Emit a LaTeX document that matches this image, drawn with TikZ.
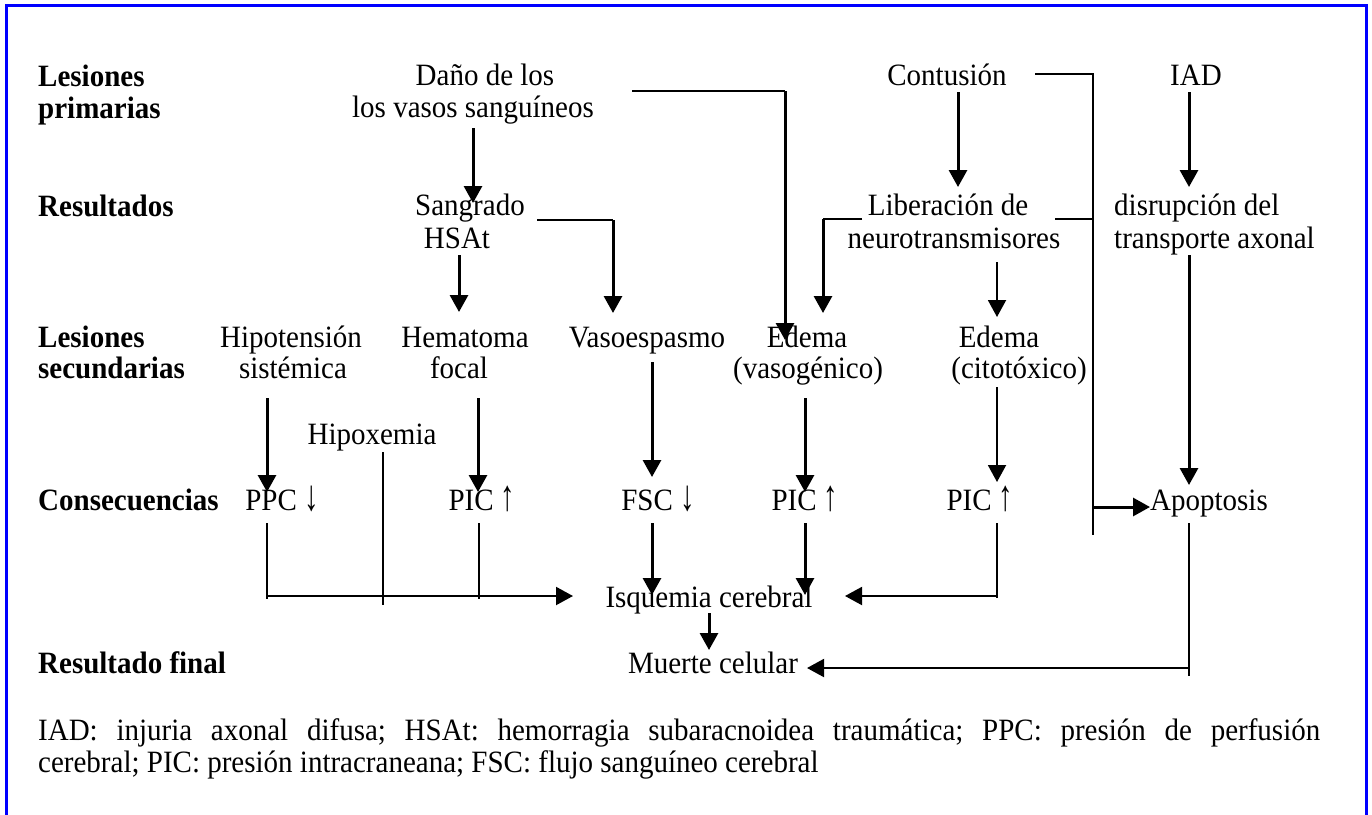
\documentclass[tikz,border=0pt]{standalone}
\usepackage{fontspec}
\usepackage{graphicx}
\setmainfont{Liberation Serif}
\usetikzlibrary{arrows.meta}
\newcommand\tall[1]{\scalebox{1}[1.07]{#1}}
\newcommand\dn{\scalebox{1}[1.5]{↓}}
\newcommand\up{\scalebox{1}[1.5]{↑}}
\begin{document}
\begin{tikzpicture}[x=1pt,y=-1pt,
  every node/.style={inner sep=0pt,font=\fontsize{29}{33}\selectfont\frenchspacing},
  txt/.style={anchor=base},
  txtl/.style={anchor=base west},
  lbl/.style={anchor=base west,font=\fontsize{29}{33}\selectfont\bfseries},
  frame/.style={draw=blue,line width=3pt},
  tip/.style={-{Triangle[length=17pt,width=18pt]}},
  thk/.style={line width=3pt,tip},
  medarr/.style={line width=2pt,tip},
  med/.style={line width=2pt},
  thn/.style={line width=1.3pt}]
\useasboundingbox (0,0) rectangle (1372,814);
\draw[frame] (6.5,830) -- (6.5,5.5) -- (1366.5,5.5) -- (1366.5,830);

% row labels
\node[lbl] (l1a) at (38,86) {\tall{Lesiones}};
\node[lbl] (l1b) at (38,118) {\tall{primarias}};
\node[lbl] (l2) at (38,216) {\tall{Resultados}};
\node[lbl] (l3a) at (38,347) {\tall{Lesiones}};
\node[lbl] (l3b) at (38,378) {\tall{secundarias}};
\node[lbl] (l4) at (38,510) {\tall{Consecuencias}};
\node[lbl] (l5) at (38,673) {\tall{Resultado final}};

% row 1
\node[txt] (dano1) at (485,85) {\tall{Daño de los}};
\node[txt] (dano2) at (473,117) {\tall{los vasos sanguíneos}};
\node[txt] (cont) at (947,85) {\tall{Contusión}};
\node[txt] (iad) at (1196,85) {\tall{IAD}};

% row 2
\node[txt] (sang1) at (470,215) {\tall{Sangrado}};
\node[txt] (sang2) at (457,248) {\tall{HSAt}};
\node[txt] (lib1) at (948,215) {\tall{Liberación de}};
\node[txt] (lib2) at (954,248) {\tall{neurotransmisores}};
\node[txtl] (dis1) at (1114,215) {\tall{disrupción del}};
\node[txtl] (dis2) at (1114,248) {\tall{transporte axonal}};

% row 3
\node[txt] (hipo1) at (291,347) {\tall{Hipotensión}};
\node[txt] (hipo2) at (293,378) {\tall{sistémica}};
\node[txt] (hem1) at (465,347) {\tall{Hematoma}};
\node[txt] (hem2) at (459,378) {\tall{focal}};
\node[txt] (vaso) at (647,347) {\tall{Vasoespasmo}};
\node[txt] (edv1) at (807,347) {\tall{Edema}};
\node[txt] (edv2) at (808,378) {\tall{(vasogénico)}};
\node[txt] (edc1) at (999,347) {\tall{Edema}};
\node[txt] (edc2) at (1019,378) {\tall{(citotóxico)}};
\node[txt] (hipox) at (372,444) {\tall{Hipoxemia}};

% row 4
\node[txt] (ppc) at (282,510) {\tall{PPC} \dn};
\node[txt] (pic1) at (482,510) {\tall{PIC} \up};
\node[txt] (fsc) at (658,510) {\tall{FSC} \dn};
\node[txt] (pic2) at (805,510) {\tall{PIC} \up};
\node[txt] (pic3) at (980,510) {\tall{PIC} \up};
\node[txt] (apop) at (1209,510) {\tall{Apoptosis}};
\node[txt] (isq) at (709,607) {\tall{Isquemia cerebral}};

% row 5
\node[txt] (muerte) at (713,673) {\tall{Muerte celular}};

% footnote
\node[txtl] (fn1) at (38,740) {\tall{\makebox[1282pt][s]{IAD: injuria axonal difusa; HSAt: hemorragia subaracnoidea traumática; PPC: presión de perfusión}}};
\node[txtl] (fn2) at (38,772) {\tall{cerebral; PIC: presión intracraneana; FSC: flujo sanguíneo cerebral}};

% connector end points
\coordinate (a1s) at (473,128);  \coordinate (a1e) at (473,203);
\coordinate (a2s) at (459,255);  \coordinate (a2e) at (459,312);
\coordinate (s1) at (537,220);   \coordinate (s2) at (613,220); \coordinate (s3) at (613,313);
\coordinate (d1) at (632,91);    \coordinate (d2) at (785,91);  \coordinate (d3) at (785,340);
\coordinate (c1s) at (958,92);   \coordinate (c1e) at (958,187);
\coordinate (lb1) at (862,219);  \coordinate (lb2) at (823,219); \coordinate (lb3) at (823,313);
\coordinate (lc1) at (997,262);  \coordinate (lc2) at (997,317);
\coordinate (cr1) at (1035,74);  \coordinate (cr2) at (1093,74); \coordinate (cr3) at (1093,535);
\coordinate (lr1) at (1055,219); \coordinate (lr2) at (1093,219);
\coordinate (ap1) at (1093,507); \coordinate (ap2) at (1150,507);
\coordinate (i1s) at (1189,92);  \coordinate (i1e) at (1189,187);
\coordinate (i2s) at (1189,255); \coordinate (i2e) at (1189,485);
\coordinate (h1s) at (267,398);  \coordinate (h1e) at (267,492);
\coordinate (h2s) at (478,398);  \coordinate (h2e) at (478,492);
\coordinate (v1s) at (652,362);  \coordinate (v1e) at (652,477);
\coordinate (e1s) at (805,398);  \coordinate (e1e) at (805,492);
\coordinate (e2s) at (997,387);  \coordinate (e2e) at (997,482);
\coordinate (p1s) at (267,523);  \coordinate (p1e) at (267,599);
\coordinate (b1) at (266,596);   \coordinate (b2) at (573,596);
\coordinate (x1s) at (383,452);  \coordinate (x1e) at (383,605);
\coordinate (q1s) at (479,523);  \coordinate (q1e) at (479,599);
\coordinate (f1s) at (652,523);  \coordinate (f1e) at (652,595);
\coordinate (g1s) at (805,523);  \coordinate (g1e) at (805,595);
\coordinate (k1) at (997,523);   \coordinate (k2) at (997,598); \coordinate (k3) at (997,596); \coordinate (k4) at (845,596);
\coordinate (m1s) at (709,613);  \coordinate (m1e) at (709,650);
\coordinate (o1) at (1189,523);  \coordinate (o2) at (1189,676);
\coordinate (o3) at (1189,668);  \coordinate (o4) at (807,668);

% connectors
\draw[thk] (a1s) -- (a1e);
\draw[thk] (a2s) -- (a2e);
\draw[thn] (s1) -- (s2);
\draw[thk] (s2) -- (s3);
\draw[thn] (d1) -- (d2);
\draw[thk] (d2) -- (d3);
\draw[thk] (c1s) -- (c1e);
\draw[thn] (lb1) -- (lb2);
\draw[thk] (lb2) -- (lb3);
\draw[medarr] (lc1) -- (lc2);
\draw[thn] (cr1) -- (cr2) -- (cr3);
\draw[thn] (lr1) -- (lr2);
\draw[thk] (ap1) -- (ap2);
\draw[thk] (i1s) -- (i1e);
\draw[thk] (i2s) -- (i2e);
\draw[thk] (h1s) -- (h1e);
\draw[thk] (h2s) -- (h2e);
\draw[thk] (v1s) -- (v1e);
\draw[thk] (e1s) -- (e1e);
\draw[medarr] (e2s) -- (e2e);
\draw[thn] (p1s) -- (p1e);
\draw[medarr] (b1) -- (b2);
\draw[thn] (x1s) -- (x1e);
\draw[thn] (q1s) -- (q1e);
\draw[thk] (f1s) -- (f1e);
\draw[thk] (g1s) -- (g1e);
\draw[med] (k1) -- (k2);
\draw[medarr] (k3) -- (k4);
\draw[thk] (m1s) -- (m1e);
\draw[thn] (o1) -- (o2);
\draw[medarr] (o3) -- (o4);
\end{tikzpicture}
\end{document}
